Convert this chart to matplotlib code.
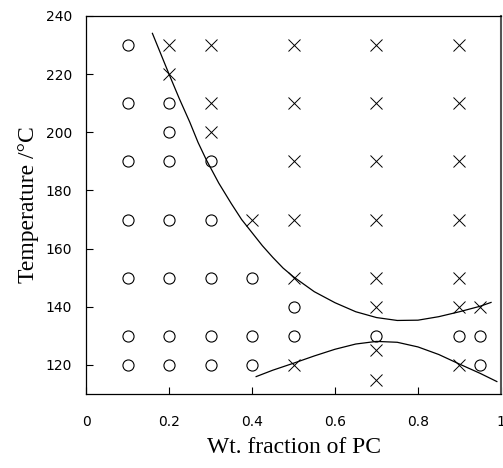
import matplotlib.pyplot as plt

# Single-phase (circles) and two-phase (crosses) observations.
circle_x = [0.1] * 7 + [0.2] * 7 + [0.3] * 5 + [0.4] * 3 + [0.5] * 2 + [0.7, 0.9, 0.95, 0.95]
circle_t = [230, 210, 190, 170, 150, 130, 120,
            210, 200, 190, 170, 150, 130, 120,
            190, 170, 150, 130, 120,
            150, 130, 120,
            140, 130,
            130, 130, 130, 120]

cross_x = [0.2] * 2 + [0.3] * 3 + [0.4] + [0.5] * 6 + [0.7] * 8 + [0.9] * 7 + [0.95]
cross_t = [230, 220,
           230, 210, 200,
           170,
           230, 210, 190, 170, 150, 120,
           230, 210, 190, 170, 150, 140, 125, 115,
           230, 210, 190, 170, 150, 140, 120,
           140]

# Phase boundaries.
upper_x = [0.16, 0.18, 0.2, 0.225, 0.25, 0.27, 0.29, 0.32, 0.35, 0.375, 0.4, 0.425, 0.45,
           0.475, 0.5, 0.55, 0.6, 0.65, 0.7, 0.75, 0.8, 0.85, 0.9, 0.95, 0.976]
upper_t = [234, 227, 220, 211.5, 203.5, 196.5, 190.5, 182.5, 175.5, 170, 165.5, 161, 157,
           153.3, 150.3, 145.2, 141.4, 138.3, 136.3, 135.3, 135.4, 136.6, 138.3, 140.2, 141.5]

lower_x = [0.41, 0.45, 0.5, 0.55, 0.6, 0.65, 0.7, 0.75, 0.8, 0.85, 0.9, 0.95, 0.99]
lower_t = [116, 118.2, 120.6, 123.1, 125.4, 127.2, 128.1, 127.8, 126.2, 123.6, 120.3, 117.1, 114.3]

fig = plt.figure(figsize=(5.03, 4.68), dpi=100)
ax = fig.add_axes([0.171, 0.158, 0.825, 0.808])

ax.plot(circle_x, circle_t, 'o', mfc='none', mec='black', ms=8, mew=0.8)
ax.plot(cross_x, cross_t, 'x', color='black', ms=8, mew=0.7)
ax.plot(upper_x, upper_t, color='black', lw=0.9)
ax.plot(lower_x, lower_t, color='black', lw=0.9)

ax.set_xlim(0, 1)
ax.set_ylim(110, 240)
ax.set_xticks([0, 0.2, 0.4, 0.6, 0.8, 1])
ax.set_xticklabels(['0', '0.2', '0.4', '0.6', '0.8', '1'])
ax.set_yticks(range(120, 241, 20))
ax.tick_params(direction='in', length=5, width=0.8, labelsize=10)
ax.tick_params(axis='x', pad=15)
ax.tick_params(axis='y', pad=10)
for lab in ax.get_xticklabels() + ax.get_yticklabels():
    lab.set_family('DejaVu Sans')

for side in ax.spines:
    ax.spines[side].set_linewidth(0.9)
ax.spines['right'].set_color('#555555')
ax.spines['right'].set_linewidth(1.5)

ax.set_xlabel('Wt. fraction of PC', family='Liberation Serif', fontsize=17, labelpad=6)
ax.set_ylabel('Temperature /\u00b0C', family='Liberation Serif', fontsize=17, labelpad=5)

plt.savefig('out.png')
